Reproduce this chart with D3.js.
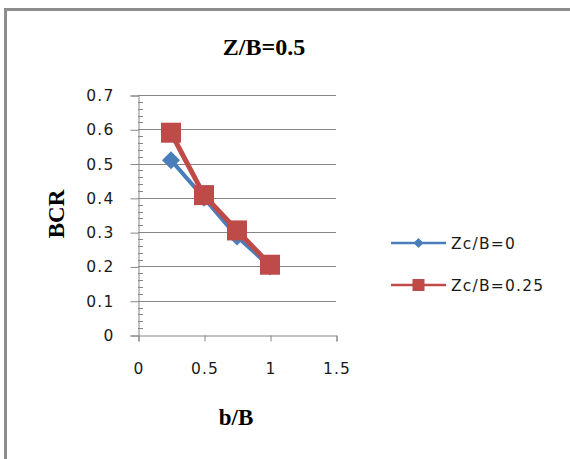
<!DOCTYPE html>
<html>
<head>
<meta charset="utf-8">
<script src="https://cdn.jsdelivr.net/npm/d3@7"></script>
<style>
  html, body { margin: 0; padding: 0; background: #fff; }
  svg { display: block; }
</style>
</head>
<body>
<svg id="chart" width="570" height="459"></svg>
<script>
// b/B positions and BCR values per series
const bRatio = [0.25, 0.5, 0.75, 1];
const bcrZc0 = [0.51, 0.40, 0.287, 0.20];
const bcrZc025 = [0.59, 0.408, 0.305, 0.205];
const seriesNames = ["Zc/B=0", "Zc/B=0.25"];
const xTicks = [0, 0.5, 1, 1.5];
const yTicks = [0, 0.1, 0.2, 0.3, 0.4, 0.5, 0.6, 0.7];
const titleText = "Z/B=0.5";
const xLabel = "b/B";
const yLabel = "BCR";

const blue = "#4A7EBB", red = "#BE4B48", grid = "#868686";
const sans = "'DejaVu Sans', Verdana, sans-serif";
const serif = "'Liberation Serif', 'Times New Roman', serif";

const svg = d3.select("#chart");

// chart frame
svg.append("path")
  .attr("d", "M5.5,600 V9.5 H600")
  .attr("fill", "none").attr("stroke", "#8c8c8c").attr("stroke-width", 3);

const x = d3.scaleLinear().domain([0, 1.5]).range([138, 336]);
const y = d3.scaleLinear().domain([0, 0.7]).range([335, 95]);

function styleTickText(sel) {
  sel.attr("font-family", sans).attr("font-size", 15.5).attr("letter-spacing", 1.2)
    .attr("fill", "#1a1a1a");
}

// horizontal gridlines
svg.append("g").selectAll("line").data(yTicks.filter(d => d > 0)).join("line")
  .attr("x1", x(0)).attr("x2", x(1.5))
  .attr("y1", d => Math.round(y(d)) + 0.5).attr("y2", d => Math.round(y(d)) + 0.5)
  .attr("stroke", grid).attr("stroke-width", 1);

// y axis with outer major ticks
const yAxis = svg.append("g").attr("transform", `translate(${x(0) + 0.5},0.5)`)
  .call(d3.axisLeft(y).tickValues(yTicks).tickSize(8).tickPadding(16)
    .tickFormat(d => d === 0 ? "0" : d3.format(".1f")(d)));
yAxis.select(".domain").attr("stroke", grid);
yAxis.selectAll(".tick line").attr("stroke", grid);
yAxis.selectAll("text").call(styleTickText);

// inner minor ticks every 0.02
const minor = d3.range(0, 0.7001, 0.02).filter(v => Math.abs(v * 10 - Math.round(v * 10)) > 1e-6);
svg.append("g").selectAll("line").data(minor).join("line")
  .attr("x1", x(0)).attr("x2", x(0) + 5)
  .attr("y1", d => Math.round(y(d)) + 0.5).attr("y2", d => Math.round(y(d)) + 0.5)
  .attr("stroke", grid);

// x axis
const xAxis = svg.append("g").attr("transform", `translate(0.5,${Math.round(y(0)) + 0.5})`)
  .call(d3.axisBottom(x).tickValues(xTicks).tickSize(6).tickPadding(21)
    .tickFormat(d => d3.format("")(d)));
xAxis.select(".domain").attr("stroke", grid);
xAxis.selectAll(".tick line").attr("stroke", grid);
xAxis.selectAll("text").call(styleTickText);

// title and axis labels
svg.append("text").attr("x", 264).attr("y", 55).attr("text-anchor", "middle")
  .attr("font-family", serif).attr("font-weight", "bold").attr("font-size", 24).text(titleText);
svg.append("text").attr("x", 236).attr("y", 425).attr("text-anchor", "middle")
  .attr("font-family", serif).attr("font-weight", "bold").attr("font-size", 23).text(xLabel);
svg.append("text").attr("transform", "translate(64,214) rotate(-90)").attr("text-anchor", "middle")
  .attr("font-family", serif).attr("font-weight", "bold").attr("font-size", 23).text(yLabel);

const line = d3.line().x((d, i) => x(bRatio[i])).y(d => y(d));
const diamond = s => `M0,${-s} L${s},0 L0,${s} L${-s},0 Z`;

// series Zc/B=0 (diamonds)
svg.append("path").attr("d", line(bcrZc0)).attr("fill", "none")
  .attr("stroke", blue).attr("stroke-width", 4).attr("stroke-linejoin", "round");
svg.append("g").selectAll("path").data(bcrZc0).join("path")
  .attr("transform", (d, i) => `translate(${x(bRatio[i])},${y(d)})`)
  .attr("d", diamond(9)).attr("fill", blue);

// series Zc/B=0.25 (squares)
svg.append("path").attr("d", line(bcrZc025)).attr("fill", "none")
  .attr("stroke", red).attr("stroke-width", 5).attr("stroke-linejoin", "round");
svg.append("g").selectAll("rect").data(bcrZc025).join("rect")
  .attr("x", (d, i) => x(bRatio[i]) - 10).attr("y", d => y(d) - 10)
  .attr("width", 20).attr("height", 20).attr("fill", red);

// legend
const legend = svg.append("g");
const ly = [243, 285];
seriesNames.forEach((name, i) => {
  const c = i === 0 ? blue : red;
  legend.append("line").attr("x1", 391).attr("x2", 446).attr("y1", ly[i]).attr("y2", ly[i])
    .attr("stroke", c).attr("stroke-width", 2.5);
  if (i === 0) {
    legend.append("path").attr("transform", `translate(418.5,${ly[i]})`).attr("d", diamond(5)).attr("fill", c);
  } else {
    legend.append("rect").attr("x", 412.5).attr("y", ly[i] - 6).attr("width", 12).attr("height", 12).attr("fill", c);
  }
  legend.append("text").attr("x", 451).attr("y", ly[i] + 6).call(styleTickText).text(name);
});
</script>
</body>
</html>
